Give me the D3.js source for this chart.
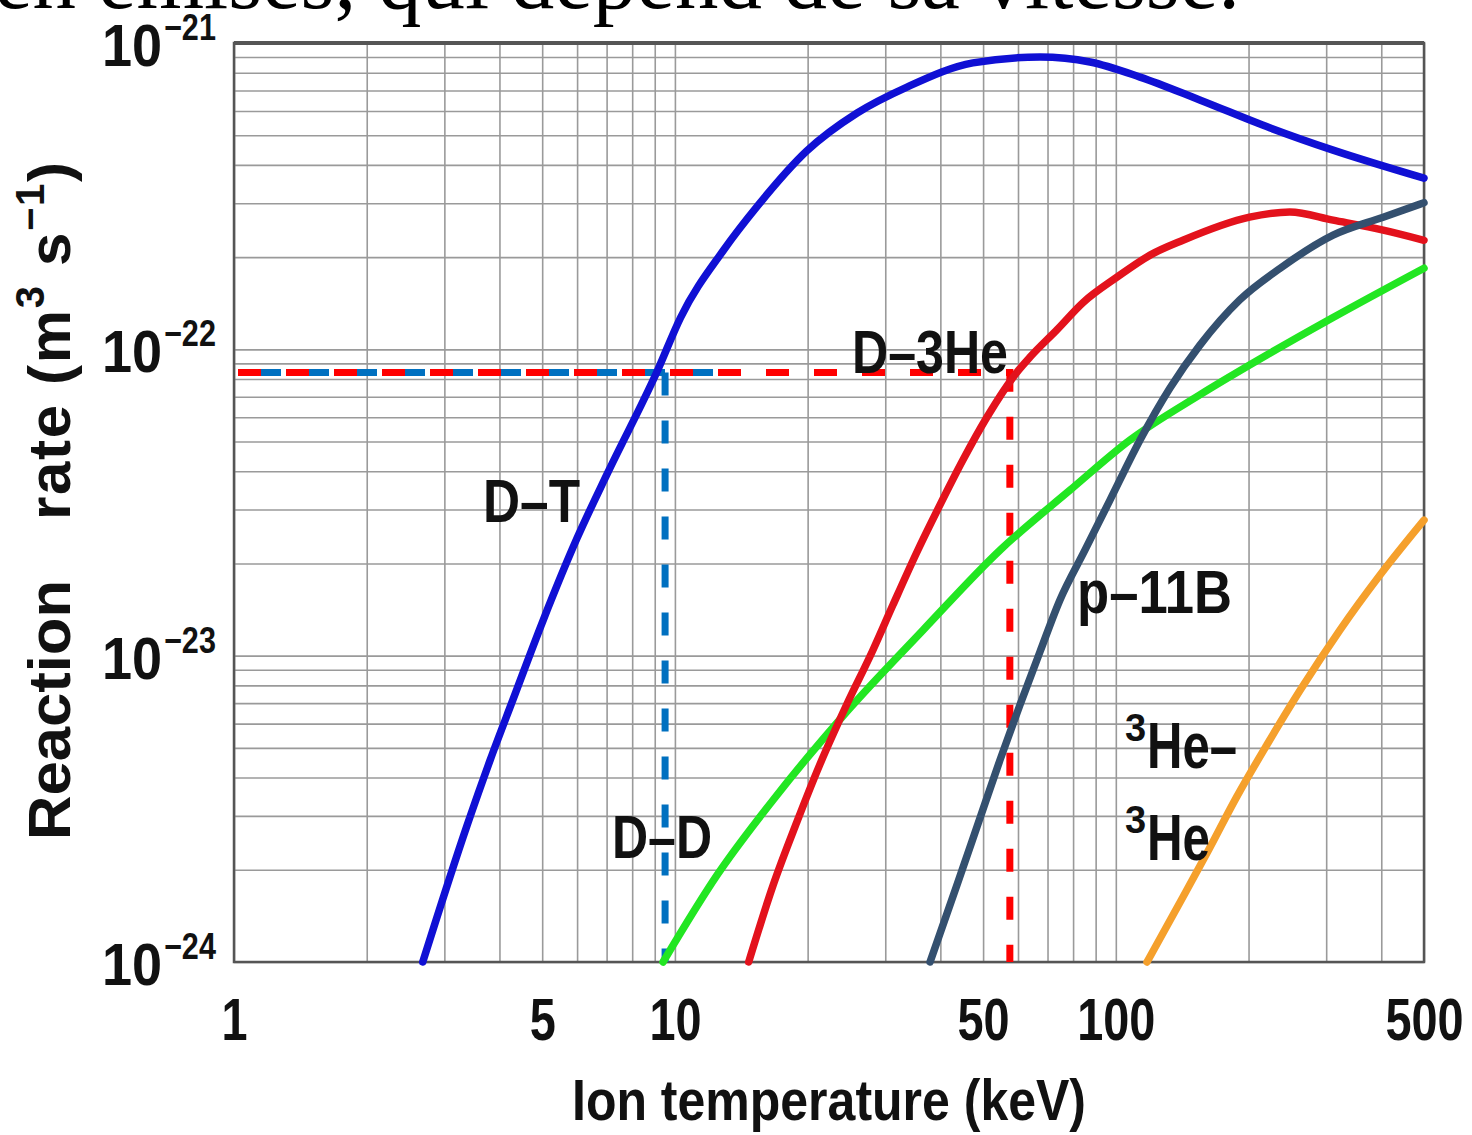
<!DOCTYPE html>
<head>
  <meta charset="utf-8">
  <script src="https://d3js.org/d3.v7.min.js"></script>
  <style>
    body { margin:0; background:#fff; }
  </style>
</head>
<body>
  <script>
    // ticks
    var xTicks = [1, 5, 10, 50, 100, 500];
    var yExps = [-21, -22, -23, -24];

    // curves (T in keV, rate in m3/s)
    var dtT = [2.68, 3.38, 3.81, 4.29, 5.02, 6.00, 7.02, 9.10, 10.3, 12.9, 15.4, 19.9, 25.9, 33.6, 47.4, 67.3, 87.4, 113.5, 155, 224, 311, 500];
    var dtR = [1.0e-24, 2.80e-24, 4.56e-24, 7.17e-24, 1.30e-23, 2.42e-23, 3.92e-23, 8.43e-23, 1.27e-22, 2.11e-22, 2.94e-22, 4.44e-22, 5.91e-22, 7.18e-22, 8.61e-22, 9.0e-22, 8.67e-22, 7.74e-22, 6.52e-22, 5.28e-22, 4.47e-22, 3.62e-22];

    var ddT = [9.4, 12.46, 16.7, 24.5, 36.5, 54.6, 78.7, 107.7, 155, 220, 311, 500];
    var ddR = [1.0e-24, 1.92e-24, 3.38e-24, 6.55e-24, 1.21e-23, 2.21e-23, 3.47e-23, 5.06e-23, 7.10e-23, 9.58e-23, 1.27e-22, 1.84e-22];

    var dheT = [14.7, 16.7, 18.9, 21.3, 24.5, 28.1, 31.2, 35.4, 39.9, 45.0, 51.0, 59.7, 63.9, 73.6, 84.2, 100.6, 119.6, 142, 201, 248, 311, 404, 500];
    var dheR = [1.0e-24, 1.78e-24, 2.86e-24, 4.40e-24, 6.90e-24, 1.04e-23, 1.46e-23, 2.18e-23, 3.10e-23, 4.35e-23, 6.0e-23, 8.43e-23, 9.44e-23, 1.16e-22, 1.42e-22, 1.72e-22, 2.03e-22, 2.27e-22, 2.70e-22, 2.81e-22, 2.64e-22, 2.45e-22, 2.27e-22];

    var pbT = [37.9, 43.6, 49.2, 54.6, 60.6, 67.3, 74.7, 85.1, 97.0, 113.5, 132.7, 155, 191, 236, 311, 404, 500];
    var pbR = [1.0e-24, 1.78e-24, 2.95e-24, 4.56e-24, 6.90e-24, 1.03e-23, 1.52e-23, 2.21e-23, 3.22e-23, 5.06e-23, 7.48e-23, 1.03e-22, 1.45e-22, 1.84e-22, 2.36e-22, 2.70e-22, 3.01e-22];

    var hheT = [117.7, 142, 161, 188, 220, 262, 322, 397, 500];
    var hheR = [1.0e-24, 1.63e-24, 2.27e-24, 3.46e-24, 5.11e-24, 7.72e-24, 1.21e-23, 1.83e-23, 2.77e-23];

    // dashed guide lines: rate level, D-T and D-3He temperatures
    var guideRate = 8.4e-23;
    var guideT = [9.5, 57.5];
    var blueEndT = 14;

    var margin = {top: 43, right: 48, bottom: 173, left: 234},
    W = 1472, H = 1135,
    width = W - margin.left - margin.right,
    height = H - margin.top - margin.bottom;

    var sans = "Liberation Sans, Arial, sans-serif";

    var svg = d3.select("body").append("svg")
    .attr("width", W).attr("height", H)
    .style("font-family", sans);
    svg.append("rect").attr("width", W).attr("height", H).attr("fill", "#fff");

    var g = svg.append("g").attr("transform", "translate(" + margin.left + "," + margin.top + ")");

    var x = d3.scaleLog().domain([1, 500]).range([0, width]);
    var y = d3.scaleLog().domain([1e-24, 1e-21]).range([height, 0]);

    // squeeze text horizontally like the scanned figure
    function squeeze(sel, k) {
      sel.each(function() {
        var w = this.getComputedTextLength();
        d3.select(this).attr("textLength", w * k).attr("lengthAdjust", "spacingAndGlyphs");
      });
    }

    // grid
    var xGrid = [], yGrid = [];
    [1, 10, 100].forEach(function(p) {
      for (var m = 1; m <= 9; m++) if (m * p <= 500) xGrid.push(m * p);
    });
    [-24, -23, -22].forEach(function(e) {
      for (var m = 1; m <= 9; m++) yGrid.push(m * Math.pow(10, e));
    });

    g.append("g").attr("class", "grid")
    .attr("transform", "translate(0," + height + ")")
    .call(d3.axisBottom(x).tickValues(xGrid).tickSize(-height).tickFormat(""))
    .call(function(a) { a.select(".domain").remove(); });
    g.append("g").attr("class", "grid")
    .call(d3.axisLeft(y).tickValues(yGrid).tickSize(-width).tickFormat(""))
    .call(function(a) { a.select(".domain").remove(); });
    g.selectAll(".grid line").attr("stroke", "#9a9a9a").attr("stroke-width", 1.6);

    // frame
    g.append("rect").attr("width", width).attr("height", height)
    .attr("fill", "none").attr("stroke", "#555").attr("stroke-width", 2.5);
    g.append("line").attr("x1", 0).attr("x2", width).attr("y1", 0).attr("y2", 0)
    .attr("stroke", "#555").attr("stroke-width", 4);

    // x axis labels
    var xa = g.append("g").attr("transform", "translate(0," + height + ")")
    .call(d3.axisBottom(x).tickValues(xTicks).tickFormat(d3.format("d")).tickSize(0).tickPadding(35));
    xa.select(".domain").remove();
    xa.selectAll("text").attr("font-size", 60).attr("font-weight", "bold")
    .attr("fill", "#111").style("font-family", sans);
    squeeze(xa.selectAll("text"), 0.78);

    // y axis labels: 10 with superscript exponent
    var ya = g.append("g");
    ya.selectAll("text.base").data(yExps).enter().append("text")
    .attr("class", "base")
    .attr("x", -72).attr("y", function(d) { return y(Math.pow(10, d)) + 23; })
    .attr("text-anchor", "end").attr("font-size", 60).attr("font-weight", "bold").attr("fill", "#111")
    .text("10");
    squeeze(ya.selectAll("text.base"), 0.9);
    ya.selectAll("text.exp").data(yExps).enter().append("text")
    .attr("class", "exp")
    .attr("x", -70).attr("y", function(d) { return y(Math.pow(10, d)) - 3; })
    .attr("font-size", 36).attr("font-weight", "bold").attr("fill", "#111")
    .text(function(d) { return "\u2212" + (-d); });
    squeeze(ya.selectAll("text.exp"), 0.85);

    // axis titles
    svg.append("text").attr("x", 829).attr("y", 1120)
    .attr("text-anchor", "middle").attr("font-size", 58).attr("fill", "#111")
    .attr("font-weight", "bold")
    .attr("textLength", 514).attr("lengthAdjust", "spacingAndGlyphs")
    .text("Ion temperature (keV)");

    var yt = svg.append("g").attr("transform", "translate(70,0) rotate(-90)");
    yt.append("text").attr("x", -840).attr("y", 0).attr("font-size", 60)
    .attr("font-weight", "bold").attr("fill", "#111")
    .attr("textLength", 260).attr("lengthAdjust", "spacingAndGlyphs")
    .text("Reaction");
    var yt2 = yt.append("text").attr("x", -520).attr("y", 0).attr("font-size", 60)
    .attr("font-weight", "bold").attr("fill", "#111")
    .attr("textLength", 358).attr("lengthAdjust", "spacing");
    yt2.append("tspan").text("rate (m");
    yt2.append("tspan").attr("dy", -26).attr("font-size", 40).text("3");
    yt2.append("tspan").attr("dy", 26).text(" s");
    yt2.append("tspan").attr("dy", -26).attr("font-size", 40).text("\u22121");
    yt2.append("tspan").attr("dy", 26).text(")");

    // dashed guides
    var gy = y(guideRate);
    g.append("line").attr("x1", 0).attr("x2", x(blueEndT)).attr("y1", gy).attr("y2", gy)
    .attr("stroke", "#0070c0").attr("stroke-width", 7).attr("stroke-dasharray", "23,25")
    .attr("stroke-dashoffset", -24);
    g.append("line").attr("x1", x(guideT[0])).attr("x2", x(guideT[0])).attr("y1", gy).attr("y2", height)
    .attr("stroke", "#0070c0").attr("stroke-width", 7).attr("stroke-dasharray", "23,25");
    g.append("path")
    .attr("d", "M0," + gy + "H" + x(guideT[1]) + "V" + height)
    .attr("fill", "none").attr("stroke", "#ff0000").attr("stroke-width", 7)
    .attr("stroke-dasharray", "23,25").attr("stroke-dashoffset", -4);

    // curves
    var line = d3.line()
    .x(function(d) { return x(d[0]); })
    .y(function(d) { return y(d[1]); })
    .curve(d3.curveMonotoneX);

    var series = [
      {T: ddT, R: ddR, color: "#22e622"},
      {T: dheT, R: dheR, color: "#e3121c"},
      {T: pbT, R: pbR, color: "#34506f"},
      {T: hheT, R: hheR, color: "#f5a02c"},
      {T: dtT, R: dtR, color: "#1010d4"}
    ];
    series.forEach(function(s) {
      g.append("path").datum(d3.zip(s.T, s.R))
      .attr("d", line).attr("fill", "none")
      .attr("stroke", s.color).attr("stroke-width", 7.5)
      .attr("stroke-linecap", "round").attr("stroke-linejoin", "round");
    });

    // curve labels
    var labels = [
      {t: "D\u2013T", x: 483, y: 522, w: 97},
      {t: "D\u20133He", x: 852, y: 373, w: 156},
      {t: "D\u2013D", x: 612, y: 858, w: 100},
      {t: "p\u201311B", x: 1077, y: 613, w: 155}
    ];
    labels.forEach(function(l) {
      svg.append("text").attr("x", l.x).attr("y", l.y)
      .attr("font-size", 62).attr("font-weight", "bold").attr("fill", "#111")
      .attr("textLength", l.w).attr("lengthAdjust", "spacingAndGlyphs")
      .text(l.t);
    });
    var he = [{x: 1125, y: 768, t: "He\u2013", w: 90}, {x: 1125, y: 860, t: "He", w: 63}];
    he.forEach(function(l) {
      svg.append("text").attr("x", l.x).attr("y", l.y - 27)
      .attr("font-size", 38).attr("font-weight", "bold").attr("fill", "#111").text("3");
      svg.append("text").attr("x", l.x + 22).attr("y", l.y)
      .attr("font-size", 64).attr("font-weight", "bold").attr("fill", "#111")
      .attr("textLength", l.w).attr("lengthAdjust", "spacingAndGlyphs")
      .text(l.t);
    });

    // clipped caption line from the page above the figure
    svg.append("text").attr("x", -6).attr("y", 8)
    .style("font-family", "Liberation Serif, Times New Roman, serif")
    .attr("font-size", 86).attr("fill", "#000")
    .attr("textLength", 1246).attr("lengthAdjust", "spacingAndGlyphs")
    .text("en émises, qui dépend de sa vitesse.");
  </script>
</body>
